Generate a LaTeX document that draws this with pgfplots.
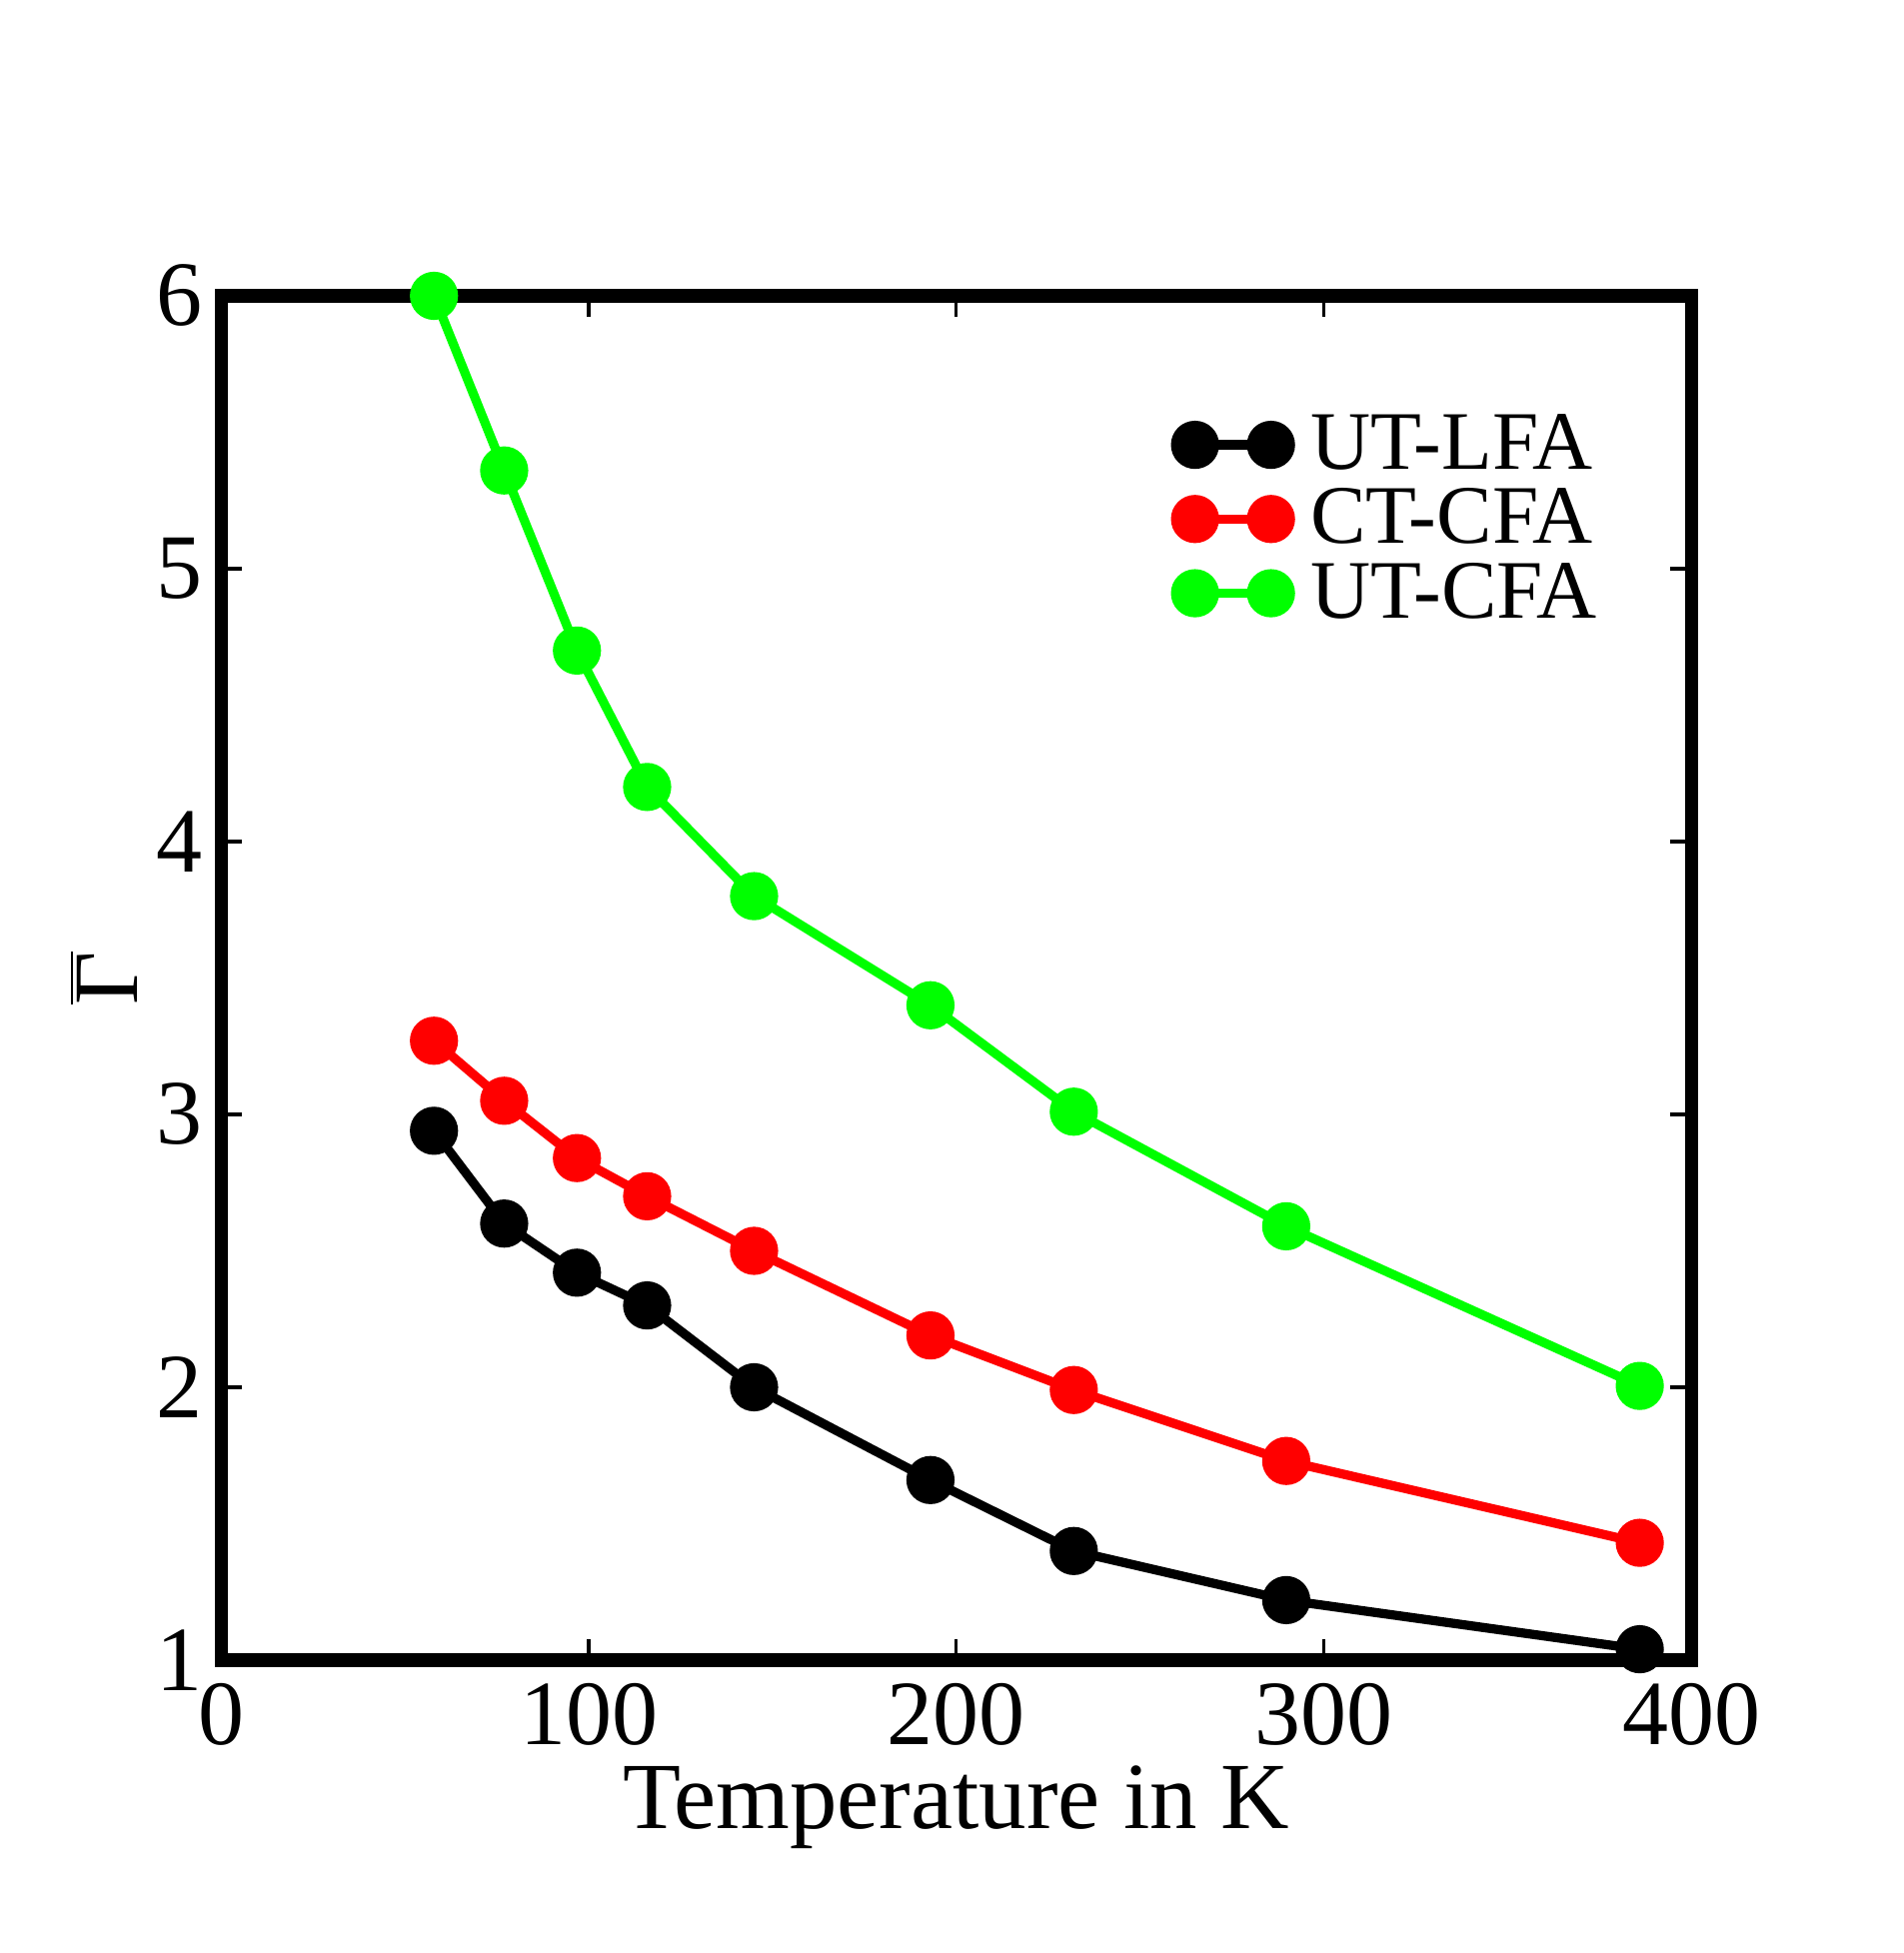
\documentclass[border=0pt]{standalone}
\usepackage{pgfplots}
\pgfplotsset{compat=1.18}
\usepackage{fontspec}
\setmainfont{Liberation Serif}
\begin{document}
\begin{tikzpicture}
\begin{axis}[
  scale only axis, width=367.7pt, height=341.25pt,
  xmin=0, xmax=400, ymin=1, ymax=6,
  xtick={0,100,200,300,400}, ytick={1,2,3,4,5,6},
  minor tick num=0,
  /pgf/number format/assume math mode=true,
  tick label style={font=\fontsize{23}{27}\selectfont},
  xticklabel style={anchor=base, inner sep=0pt, yshift=-21pt},
  yticklabel style={anchor=east, inner sep=0pt, xshift=-4.5pt},
  major tick length=5.2pt,
  tick style={line width=0.85pt, black},
  axis line style={line width=3.3pt},
  xlabel={Temperature in K},
  xlabel style={font=\fontsize{23.7}{28}\selectfont, at={(axis description cs:0.5,-0.1238)}, anchor=base, inner sep=0pt},
  ylabel={$\overline{\mbox{Γ}}$},
  ylabel style={font=\fontsize{23}{27}\selectfont, at={(axis description cs:-0.0564,0.5)}, anchor=south, inner sep=0pt},
  clip=false, axis on top,
  legend style={draw=none, fill=none, inner sep=0pt, outer sep=0pt, at={(axis description cs:0.6492,0.9131)}, anchor=north west, font=\fontsize{20.8}{24}\selectfont, row sep=3.3pt, column sep=5pt, nodes={inner sep=0pt}},
  legend cell align=left,
  legend image code/.code={\draw[#1] plot coordinates {(0pt,0pt) (19pt,0pt)};},
  every axis plot/.append style={line width=2.3pt, mark=*, mark size=4.875pt},
]
\addplot[color=black, mark options={draw=none, fill=black}] coordinates {
(57.9,2.94) (77.0,2.60) (96.8,2.42) (115.9,2.30) (145.0,2.00) (193.0,1.66) (232.0,1.40) (289.8,1.22) (386.0,1.04)};
\addlegendentry{UT-LFA}
\addplot[color=red, mark options={draw=none, fill=red}] coordinates {
(57.9,3.27) (77.0,3.05) (96.8,2.84) (115.9,2.70) (145.0,2.50) (193.0,2.19) (232.0,1.99) (289.8,1.73) (386.0,1.43)};
\addlegendentry{CT-CFA}
\addplot[color=green, mark options={draw=none, fill=green}] coordinates {
(57.9,6.00) (77.0,5.36) (96.8,4.70) (115.9,4.20) (145.0,3.80) (193.0,3.40) (232.0,3.01) (289.8,2.59) (386.0,2.005)};
\addlegendentry{UT-CFA}
\end{axis}
\path (-55.325pt,-73.25pt) rectangle (420.675pt,415.25pt);
\end{tikzpicture}
\end{document}
